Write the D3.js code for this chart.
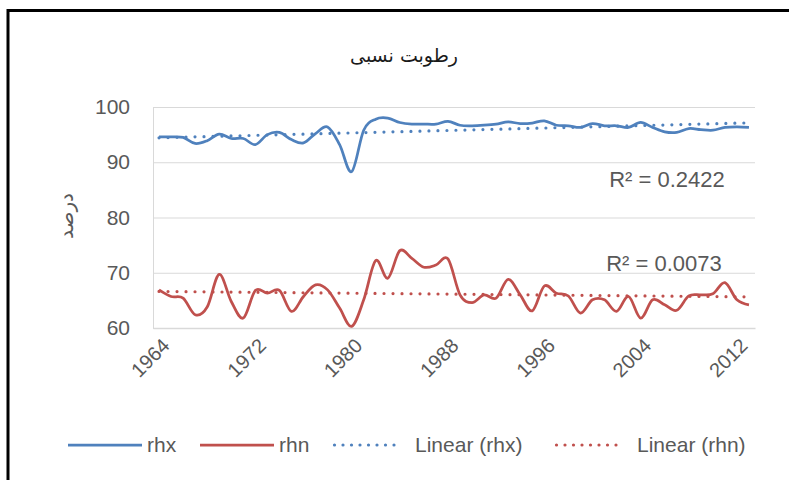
<!DOCTYPE html>
<html>
<head>
<meta charset="utf-8">
<script src="https://cdn.jsdelivr.net/npm/d3@7"></script>
<style>
    body { margin: 0; background: #ffffff; }
    svg { display: block; }
</style>
</head>
<body>
<div id="chart"></div>
<script>
var years = [1964, 1965, 1966, 1967, 1968, 1969, 1970, 1971, 1972, 1973,
    1974, 1975, 1976, 1977, 1978, 1979, 1980, 1981, 1982, 1983,
    1984, 1985, 1986, 1987, 1988, 1989, 1990, 1991, 1992, 1993,
    1994, 1995, 1996, 1997, 1998, 1999, 2000, 2001, 2002, 2003,
    2004, 2005, 2006, 2007, 2008, 2009, 2010, 2011, 2012, 2013];

var rhx = [94.6, 94.6, 94.5, 93.4, 93.9, 95.1, 94.3, 94.3, 93.2, 95.0,
    95.4, 94.1, 93.5, 95.2, 96.4, 93.2, 88.3, 95.8, 97.8, 98.0,
    97.2, 96.9, 96.9, 96.9, 97.4, 96.7, 96.6, 96.7, 96.9, 97.3,
    97.0, 97.1, 97.5, 96.7, 96.6, 96.3, 97.0, 96.6, 96.6, 96.3,
    97.2, 96.3, 95.5, 95.4, 96.1, 95.9, 95.8, 96.3, 96.4, 96.3];

var rhn = [66.9, 65.7, 65.4, 62.4, 63.8, 69.7, 64.8, 61.8, 66.8, 66.3,
    66.8, 63.0, 65.7, 67.8, 66.9, 63.6, 60.3, 65.1, 72.2, 69.0,
    74.0, 72.6, 71.0, 71.4, 72.5, 66.0, 64.6, 66.0, 65.4, 68.8,
    66.0, 63.1, 67.6, 66.3, 65.8, 62.7, 65.1, 65.1, 63.0, 65.7,
    61.8, 65.1, 64.2, 63.2, 65.8, 66.0, 66.2, 68.2, 65.1, 64.2];

var yTicks = [60, 70, 80, 90, 100];
var xTickYears = [1964, 1972, 1980, 1988, 1996, 2004, 2012];
var legendLabels = ['rhx', 'rhn', 'Linear (rhx)', 'Linear (rhn)'];
var r2Labels = ['R\u00B2 = 0.2422', 'R\u00B2 = 0.0073'];
var titleText = 'رطوبت نسبی';
var yTitleText = 'درصد';

var blue = '#4F81BD';
var red = '#C0504D';
var textColor = '#595959';
var gridColor = '#D9D9D9';
var latin = '"Liberation Sans", Arial, sans-serif';
var persian = '"DejaVu Sans", sans-serif';

var width = 789, height = 480;
var plot = { left: 153, right: 755, top: 107, bottom: 328 };

var svg = d3.select('#chart')
    .append('svg')
    .attr('width', width)
    .attr('height', height);

// frame around the chart
svg.append('rect')
    .attr('x', 8)
    .attr('y', 10.5)
    .attr('width', 800)
    .attr('height', 500)
    .attr('fill', 'none')
    .attr('stroke', '#000')
    .attr('stroke-width', 3);

var xScale = d3.scaleBand().domain(years).range([plot.left, plot.right]);
var yScale = d3.scaleLinear().domain([60, 100]).range([plot.bottom, plot.top]);

function cx(year) { return xScale(year) + xScale.bandwidth() / 2; }

// gridlines + y labels
var yAxis = svg.append('g')
    .attr('transform', 'translate(' + plot.left + ',0)')
    .call(d3.axisLeft(yScale).tickValues(yTicks).tickSize(-(plot.right - plot.left)).tickPadding(23).tickSizeOuter(0));

yAxis.select('.domain').attr('stroke', gridColor);
yAxis.selectAll('.tick line').attr('stroke', gridColor);
yAxis.selectAll('.tick text')
    .attr('fill', textColor)
    .attr('font-family', latin)
    .attr('font-size', 21);

// category axis
var xAxis = svg.append('g')
    .attr('transform', 'translate(0,' + plot.bottom + ')')
    .call(d3.axisBottom(xScale).tickValues(xTickYears).tickSize(0).tickSizeOuter(0));

xAxis.select('.domain').attr('stroke', gridColor).attr('stroke-width', 1.5);
xAxis.selectAll('.tick text')
    .attr('fill', textColor)
    .attr('font-family', latin)
    .attr('font-size', 20)
    .attr('y', 0)
    .attr('dy', '0.35em')
    .attr('text-anchor', 'end')
    .attr('transform', 'translate(7,14) rotate(-45)');

// least squares fit, same as the excel trendline
function linearFit(values) {
    var n = values.length;
    var xs = values.map(function(v, i) { return i + 1; });
    var mx = d3.mean(xs), my = d3.mean(values);
    var sxy = 0, sxx = 0;
    for (var i = 0; i < n; i++) {
        sxy += (xs[i] - mx) * (values[i] - my);
        sxx += (xs[i] - mx) * (xs[i] - mx);
    }
    var b = sxy / sxx;
    var a = my - b * mx;
    return [a + b * xs[0], a + b * xs[n - 1]];
}

var line = d3.line()
    .x(function(d) { return cx(d.year); })
    .y(function(d) { return yScale(d.value); })
    .curve(d3.curveCardinal.tension(0));

var straight = d3.line()
    .x(function(d) { return cx(d.year); })
    .y(function(d) { return yScale(d.value); });

var series = [
    { values: rhx, color: blue },
    { values: rhn, color: red }
];

series.forEach(function(s) {
    var fit = linearFit(s.values);
    svg.append('path')
        .datum([{ year: years[0], value: fit[0] }, { year: years[years.length - 1], value: fit[1] }])
        .attr('d', straight)
        .attr('fill', 'none')
        .attr('stroke', s.color)
        .attr('stroke-width', 3.2)
        .attr('stroke-linecap', 'round')
        .attr('stroke-dasharray', '0 9');
});

series.forEach(function(s) {
    var data = years.map(function(y, i) { return { year: y, value: s.values[i] }; });
    svg.append('path')
        .datum(data)
        .attr('d', line)
        .attr('fill', 'none')
        .attr('stroke', s.color)
        .attr('stroke-width', 2.75)
        .attr('stroke-linejoin', 'round');
});

// R² labels
svg.append('text')
    .attr('x', 667)
    .attr('y', 187)
    .attr('text-anchor', 'middle')
    .attr('fill', textColor)
    .attr('font-family', latin)
    .attr('font-size', 22)
    .text(r2Labels[0]);

svg.append('text')
    .attr('x', 664)
    .attr('y', 271)
    .attr('text-anchor', 'middle')
    .attr('fill', textColor)
    .attr('font-family', latin)
    .attr('font-size', 22)
    .text(r2Labels[1]);

// titles
svg.append('text')
    .attr('x', 404)
    .attr('y', 62)
    .attr('text-anchor', 'middle')
    .attr('fill', '#1a1a1a')
    .attr('font-family', persian)
    .attr('font-size', 19)
    .text(titleText);

svg.append('text')
    .attr('transform', 'translate(66,216) rotate(-90)')
    .attr('text-anchor', 'middle')
    .attr('dy', '0.35em')
    .attr('fill', textColor)
    .attr('font-family', persian)
    .attr('font-size', 20)
    .text(yTitleText);

// legend
var legendX = [68, 200, 333, 555];
var legendY = 445;
var legendItems = [
    { color: blue, dash: null },
    { color: red, dash: null },
    { color: blue, dash: '0 8.5' },
    { color: red, dash: '0 8.5' }
];

legendItems.forEach(function(item, i) {
    var g = svg.append('g').attr('transform', 'translate(' + legendX[i] + ',' + legendY + ')');
    var sw = g.append('line')
        .attr('x1', item.dash ? 1.5 : 0)
        .attr('x2', item.dash ? 69 : 74)
        .attr('y1', 0)
        .attr('y2', 0)
        .attr('stroke', item.color)
        .attr('stroke-width', item.dash ? 3.2 : 2.75);
    if (item.dash) sw.attr('stroke-dasharray', item.dash).attr('stroke-linecap', 'round');
    g.append('text')
        .attr('x', item.dash ? 82 : 79)
        .attr('dy', '0.35em')
        .attr('fill', textColor)
        .attr('font-family', latin)
        .attr('font-size', 21)
        .text(legendLabels[i]);
});
</script>
</body>
</html>
